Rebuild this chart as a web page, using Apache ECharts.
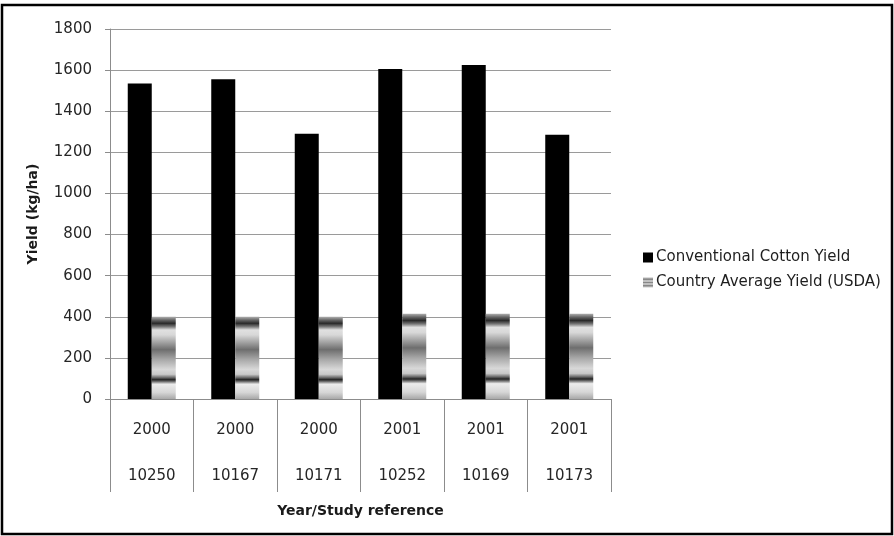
<!DOCTYPE html>
<html>
<head>
<meta charset="utf-8">
<script src="https://cdn.jsdelivr.net/npm/echarts@6/dist/echarts.min.js"></script>
<style>html,body{margin:0;padding:0;background:#fff}#c{width:894px;height:536px}</style>
</head>
<body>
<div id="c"></div>
<script>
const years = ['2000','2000','2000','2001','2001','2001'];
const studyRefs = ['10250','10167','10171','10252','10169','10173'];
const conventionalYield = [1535, 1555, 1290, 1605, 1625, 1285];
const countryAverageYield = [400, 400, 400, 415, 415, 415];
const yTicks = [0, 200, 400, 600, 800, 1000, 1200, 1400, 1600, 1800];

const categories = years.map((y, i) => y + '\n' + studyRefs[i]);
const FONT = '"DejaVu Sans", sans-serif';

const stripe = new echarts.graphic.LinearGradient(0, 0, 0, 1, [
  {offset: 0.00, color: '#b0b0b0'},
  {offset: 0.04, color: '#666'},
  {offset: 0.08, color: '#2a2a2a'},
  {offset: 0.12, color: '#777'},
  {offset: 0.16, color: '#e0e0e0'},
  {offset: 0.22, color: '#d8d8d8'},
  {offset: 0.40, color: '#6e6e6e'},
  {offset: 0.52, color: '#a8a8a8'},
  {offset: 0.64, color: '#d8d8d8'},
  {offset: 0.70, color: '#c8c8c8'},
  {offset: 0.74, color: '#6a6a6a'},
  {offset: 0.765, color: '#222'},
  {offset: 0.79, color: '#777'},
  {offset: 0.82, color: '#ececec'},
  {offset: 0.92, color: '#d6d6d6'},
  {offset: 1.00, color: '#a8a8a8'}
]);

const chart = echarts.init(document.getElementById('c'));
chart.setOption({
  animation: false,
  backgroundColor: '#fff',
  textStyle: {fontFamily: FONT},
  grid: {left: 110, right: 283, top: 29, bottom: 137},
  legend: {
    orient: 'vertical',
    left: 638,
    top: 245,
    itemWidth: 10,
    itemHeight: 10,
    itemGap: 10,
    icon: 'rect',
    textStyle: {fontFamily: FONT, fontSize: 15, color: '#1e1e1e', padding: [0, 0, 0, -2]},
    data: [
      {name: 'Conventional Cotton Yield', itemStyle: {color: '#000'}},
      {name: 'Country Average Yield (USDA)', itemStyle: {color: new echarts.graphic.LinearGradient(0,0,0,1,[
        {offset:0,color:'#bbb'},{offset:0.2,color:'#888'},{offset:0.35,color:'#ddd'},{offset:0.5,color:'#888'},{offset:0.65,color:'#ddd'},{offset:0.8,color:'#888'},{offset:1,color:'#ccc'}])}}
    ]
  },
  xAxis: {
    type: 'category',
    data: categories,
    name: 'Year/Study reference',
    nameLocation: 'middle',
    nameGap: 102,
    nameTextStyle: {fontFamily: FONT, fontWeight: 'bold', fontSize: 14, color: '#1a1a1a'},
    axisLine: {lineStyle: {color: '#8c8c8c', width: 1}},
    axisTick: {show: true, length: 93, lineStyle: {color: '#8c8c8c'}},
    axisLabel: {fontFamily: FONT, fontSize: 15, color: '#262626', lineHeight: 46, margin: 8, interval: 0}
  },
  yAxis: {
    type: 'value',
    min: 0,
    max: 1800,
    interval: 200,
    name: 'Yield (kg/ha)',
    nameLocation: 'middle',
    nameGap: 70,
    nameTextStyle: {fontFamily: FONT, fontWeight: 'bold', fontSize: 14, color: '#1a1a1a'},
    axisLine: {show: true, lineStyle: {color: '#8c8c8c'}},
    axisTick: {show: true, length: 5, lineStyle: {color: '#8c8c8c'}},
    splitLine: {lineStyle: {color: '#9a9a9a', width: 1}},
    axisLabel: {fontFamily: FONT, fontSize: 15, color: '#262626', margin: 18,
      formatter: v => yTicks.includes(v) ? String(v) : ''}
  },
  series: [
    {
      name: 'Conventional Cotton Yield',
      type: 'bar',
      data: conventionalYield,
      barWidth: 24,
      barGap: '0%',
      itemStyle: {color: '#000'}
    },
    {
      name: 'Country Average Yield (USDA)',
      type: 'bar',
      data: countryAverageYield,
      barWidth: 24,
      barGap: '0%',
      itemStyle: {color: stripe}
    }
  ],
  graphic: [{
    type: 'rect',
    shape: {x: 2, y: 5, width: 890, height: 529},
    style: {fill: 'none', stroke: '#000', lineWidth: 2.5},
    silent: true,
    z: 100
  }]
});
</script>
</body>
</html>
